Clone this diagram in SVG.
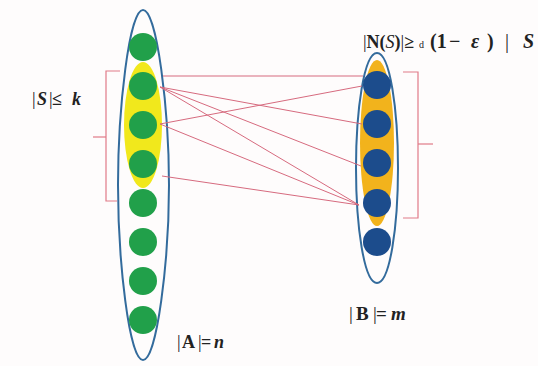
<svg xmlns="http://www.w3.org/2000/svg" width="538" height="366" viewBox="0 0 538 366">
<style>
.outer{fill:none;stroke:#336b9c;stroke-width:2}
.g{fill:#21a04a}
.b{fill:#1c4c8c}
.ln{stroke:#d66a7e;stroke-width:1;fill:none}
.br{stroke:#e07a88;stroke-width:1.2;fill:none}
.t{font-family:"Liberation Serif",serif;fill:#222;font-weight:bold}
.n{font-weight:normal}
.i{font-style:italic}
</style>
<rect width="538" height="366" fill="#fefcfc"/>
<g id="setA">
<path class="outer" d="M143,10 C157,10 169,110 169,185 C169,260 157,360 143,360 C129,360 118,260 118,185 C118,110 129,10 143,10 Z"/>
<ellipse cx="143" cy="125" rx="19" ry="63" fill="#f1e81c"/>
<circle class="g" cx="143" cy="47" r="14"/>
<circle class="g" cx="143" cy="86" r="14"/>
<circle class="g" cx="143" cy="125" r="14"/>
<circle class="g" cx="143" cy="164" r="14"/>
<circle class="g" cx="143" cy="203" r="14"/>
<circle class="g" cx="143" cy="242" r="14"/>
<circle class="g" cx="143" cy="281" r="14"/>
<circle class="g" cx="143" cy="320" r="14"/>
</g>
<g id="setB">
<path class="outer" d="M377,53 C390,53 398,110 398,168 C398,226 390,283 377,283 C364,283 356,226 356,168 C356,110 364,53 377,53 Z"/>
<ellipse cx="377" cy="143" rx="17" ry="83" fill="#f2b31c"/>
<circle class="b" cx="377" cy="85" r="14"/>
<circle class="b" cx="377" cy="124" r="14"/>
<circle class="b" cx="377" cy="163" r="14"/>
<circle class="b" cx="377" cy="203" r="14"/>
<circle class="b" cx="377" cy="242" r="14"/>
</g>
<g id="connectors">
<line class="ln" x1="163" y1="76" x2="363" y2="76"/>
<line class="ln" x1="160" y1="87" x2="362" y2="124"/>
<line class="ln" x1="160" y1="87" x2="361" y2="166"/>
<line class="ln" x1="160" y1="87" x2="359" y2="205"/>
<line class="ln" x1="160" y1="124" x2="362" y2="86"/>
<line class="ln" x1="160" y1="124" x2="359" y2="205"/>
<line class="ln" x1="162" y1="176" x2="359" y2="205"/>
</g>
<g id="bracketS">
<polyline class="br" points="120,71 106,71 106,201 117,201"/>
<line class="br" x1="93" y1="137" x2="106" y2="137"/>
</g>
<g id="bracketN">
<polyline class="br" points="403,72 418,72 418,218 403,218"/>
<line class="br" x1="418" y1="144" x2="433" y2="144"/>
</g>
<g id="labels">
<text class="t" y="105" font-size="18"><tspan class="n" x="32">|</tspan><tspan class="i" x="37">S</tspan><tspan class="n" x="49">|</tspan><tspan x="52">≤</tspan><tspan class="i" x="72">k</tspan></text>
<text class="t" x="363" y="48" font-size="18"><tspan class="n">|</tspan>N(<tspan class="i n">S</tspan>)<tspan class="n">|</tspan>≥</text>
<text class="t n" x="419" y="48" font-size="10">d</text>
<text class="t" y="48" font-size="20"><tspan x="430">(1</tspan><tspan x="449">−</tspan><tspan class="i" x="471">ε</tspan><tspan x="487">)</tspan><tspan class="n" x="505">|</tspan><tspan class="i" x="523">S</tspan></text>
<text class="t" y="348" font-size="18"><tspan class="n" x="177">|</tspan><tspan x="182">A</tspan><tspan class="n" x="198">|</tspan><tspan x="201">=</tspan><tspan class="i" x="214">n</tspan></text>
<text class="t" y="320" font-size="19"><tspan class="n" x="349">|</tspan><tspan x="356">B</tspan><tspan class="n" x="373">|</tspan><tspan x="376">=</tspan><tspan class="i" x="391">m</tspan></text>
</g>
</svg>
